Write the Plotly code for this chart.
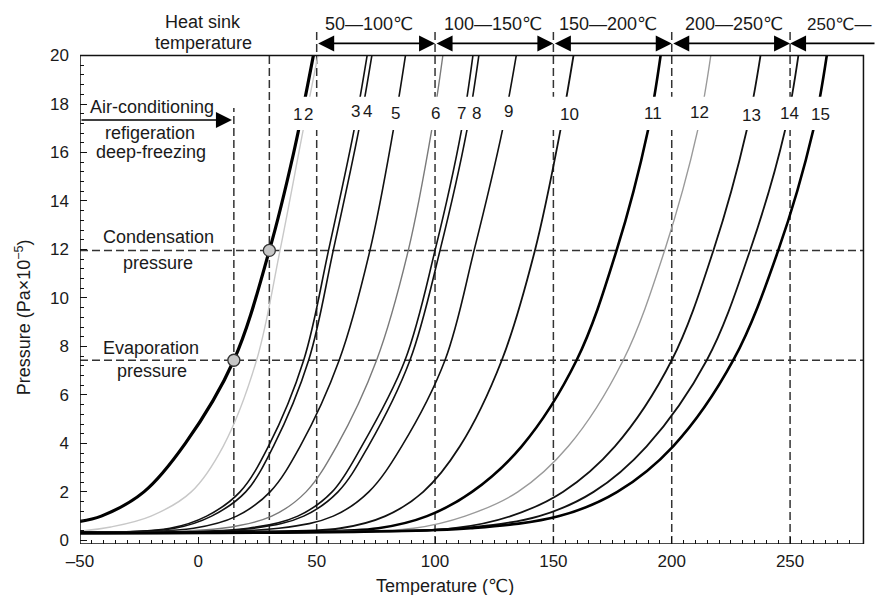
import plotly.graph_objects as go

# ---------------- data ----------------
# temperature (deg C) / pressure (Pa x 10^-5) points on each saturation curve
T1 = [-50, -41, -23, -5.5, 15, 30, 40.3, 48.6]
P1 = [0.78, 1, 2, 4, 7.43, 11.96, 16, 20]
T2 = [-50, -37, -20, -3, 10.5, 24.6, 34.5, 44.3, 50.5]
P2 = [0.38, 0.55, 1, 2, 3.88, 7.43, 11.96, 16.93, 20]
P_MID = [0.33, 0.5, 1, 2, 3.88, 7.43, 11.96, 16.93, 20]
T3 = [-50, -12, 3.5, 17.6, 29.6, 44.5, 55, 65.8, 71.3]
T4 = [-50, -10, 5.6, 20, 31.7, 46.6, 57, 67.8, 73.3]
T5 = [-50, -2, 16.2, 30.3, 43, 59.5, 72.5, 82.4, 87.5]
T6 = [-50, 10, 31, 45.5, 58.4, 75.3, 88.7, 98.6, 103.3]
T7 = [-50, 21, 42, 56.5, 69, 87.3, 100, 111.2, 116]
T8 = [-50, 23.5, 44.5, 59, 71.8, 89.4, 102.1, 113.5, 118.5]
T9 = [-50, 34, 57, 72, 85.9, 104.2, 116.5, 128.5, 134.3]
P_HIGH = [0.3, 0.36, 0.5, 1, 2, 3.88, 7.43, 11.96, 16.93, 20]
T10 = [-50, 20, 60, 79, 95, 110.5, 128.2, 142.2, 153, 158.5]
T11 = [-50, 40, 76, 96.6, 115.6, 136.6, 159.8, 176.7, 190, 195.3]
T12 = [-50, 50, 91, 112.7, 135, 156.3, 179.5, 197, 211, 216.5]
T13 = [-50, 60, 108, 132, 154, 176, 200, 217.6, 231.7, 237.5]
T14 = [-50, 65, 110, 144, 167, 189.4, 214.8, 233.1, 247.9, 253.5]
T15 = [-50, 70, 115, 152.5, 177, 200.6, 226, 245, 259.8, 265.5]

curve_names = [str(i) for i in range(1, 16)]
curve_T = [T1, T2, T3, T4, T5, T6, T7, T8, T9, T10, T11, T12, T13, T14, T15]
curve_P = [P1, P2] + [P_MID] * 7 + [P_HIGH] * 6

# operating points
EVAP_T, EVAP_P = 15, 7.43
COND_T, COND_P = 30, 11.96

# heat-sink temperature bands
band_edges = [50, 100, 150, 200, 250]
band_labels = ["50—100℃", "100—150℃", "150—200℃", "200—250℃", "250℃—"]

x_ticks = [-50, 0, 50, 100, 150, 200, 250]
x_ticktext = ["–50", "0", "50", "100", "150", "200", "250"]
y_ticks = list(range(0, 21, 2))

# ---------------- styling ----------------
curve_color = ["#000000", "#c8c8c8", "#111111", "#111111", "#111111", "#7a7a7a",
               "#111111", "#111111", "#111111", "#111111", "#000000", "#9a9a9a",
               "#111111", "#111111", "#000000"]
curve_width = [3.2, 1.4, 1.6, 1.6, 1.6, 1.4, 1.6, 1.6, 1.6, 1.8, 2.6, 1.4, 1.8, 1.8, 2.6]
# label positions (T, P) in the label row
label_pos = [(41.9, 17.55), (46.4, 17.55), (66.3, 17.69), (71.4, 17.69), (83.1, 17.59),
             (100.0, 17.62), (111.3, 17.59), (117.6, 17.59), (131.0, 17.69), (156.7, 17.55),
             (192.2, 17.62), (211.6, 17.63), (233.8, 17.51), (249.7, 17.62), (262.9, 17.58)]

FONT = "Liberation Sans, Arial, DejaVu Sans, sans-serif"
X_MIN, X_BOX, X_MAX = -50, 281, 286.3
Y_MIN, Y_MAX = -0.15, 22.29
DASH = "8px,4px"

fig = go.Figure()
for name, t, p, c, w in zip(curve_names, curve_T, curve_P, curve_color, curve_width):
    fig.add_trace(go.Scatter(x=t, y=p, mode="lines", name=name,
                             line=dict(color=c, width=w, shape="spline", smoothing=1.0),
                             hoverinfo="skip", showlegend=False))

fig.add_trace(go.Scatter(x=[EVAP_T, COND_T], y=[EVAP_P, COND_P], mode="markers",
                         marker=dict(size=12, color="#c6c6c6", line=dict(color="#333", width=1.3)),
                         showlegend=False, hoverinfo="skip"))

shapes = []
dl = dict(color="#333333", width=1.5, dash=DASH)
for yv in (EVAP_P, COND_P):
    shapes.append(dict(type="line", xref="x", yref="y", x0=X_MIN, x1=X_BOX, y0=yv, y1=yv,
                       line=dl, layer="below"))
shapes.append(dict(type="line", xref="x", yref="y", x0=EVAP_T, x1=EVAP_T, y0=Y_MIN, y1=17.84,
                   line=dl, layer="below"))
shapes.append(dict(type="line", xref="x", yref="y", x0=COND_T, x1=COND_T, y0=Y_MIN, y1=20,
                   line=dl, layer="below"))
for xv in band_edges:
    shapes.append(dict(type="line", xref="x", yref="y", x0=xv, x1=xv, y0=Y_MIN, y1=20.97,
                       line=dl, layer="below"))
# white band behind the curve numbers
shapes.append(dict(type="rect", xref="x", yref="y", x0=36.5, x1=280.3, y0=16.93, y1=18.3,
                   fillcolor="white", line=dict(width=0), layer="above"))
# plot frame
shapes.append(dict(type="rect", xref="x", yref="y", x0=X_MIN, x1=X_BOX, y0=Y_MIN, y1=20,
                   line=dict(color="#111", width=1.5), layer="above"))

ann = []
def txt(x, y, s, size=18, xanchor="center", xref="x", yref="y", angle=0):
    ann.append(dict(x=x, y=y, xref=xref, yref=yref, text=s, showarrow=False,
                    xanchor=xanchor, yanchor="middle", textangle=angle,
                    font=dict(family=FONT, size=size, color="#1a1a1a")))

for name, (lx, ly) in zip(curve_names, label_pos):
    txt(lx, ly, name, size=17)

txt(2.0, 21.4, "Heat sink")
txt(2.0, 20.52, "temperature")
band_centers = [72, 124.6, 172.9, 226.3]
for cx, lab in zip(band_centers, band_labels[:4]):
    txt(cx, 21.3, lab)
txt(256.5, 21.3, band_labels[4], size=17, xanchor="left")

txt(-19.7, 17.89, "Air-conditioning")
txt(-20.4, 16.82, "refigeration")
txt(-19.8, 16.0, "deep-freezing")
txt(-16.9, 12.51, "Condensation")
txt(-16.9, 11.44, "pressure")
txt(-20.1, 7.93, "Evaporation")
txt(-19.4, 6.97, "pressure")

def arrow(x_head, x_tail, y, both=True):
    ann.append(dict(x=x_head, y=y, ax=x_tail, ay=y, xref="x", yref="y", axref="x", ayref="y",
                    text="", showarrow=True, arrowhead=2, startarrowhead=2,
                    arrowside="end+start" if both else "end",
                    arrowsize=2.0, arrowwidth=1.6, arrowcolor="#000",
                    standoff=0, startstandoff=0))

for a, b in zip(band_edges[:-1], band_edges[1:]):
    arrow(b, a, 20.5)
arrow(band_edges[-1], X_MAX, 20.5, both=False)
arrow(14.2, X_MIN, 17.34, both=False)

# axis titles
txt(-0.0716, 9.2, "Pressure (Pa×10<sup>−5</sup>)", xref="paper", angle=-90)
txt(104.2, -0.0764, "Temperature (℃)", yref="paper", size=18)

minor_x = [v for v in range(-50, 280, 5) if v % 50 != 0]
minor_y = [round(i * 0.4, 1) for i in range(0, 51) if round(i * 0.4, 1) % 2 != 0]

fig.update_layout(
    width=876, height=595, margin=dict(l=80, r=0, t=0, b=50.6),
    paper_bgcolor="white", plot_bgcolor="white",
    shapes=shapes, annotations=ann, showlegend=False,
    font=dict(family=FONT, size=17, color="#1a1a1a"),
    xaxis=dict(range=[X_MIN, X_MAX], showgrid=False, zeroline=False, showline=False,
               tickmode="array", tickvals=x_ticks, ticktext=x_ticktext,
               ticks="inside", ticklen=7, tickwidth=1.3, tickcolor="#111",
               ticklabelstandoff=5,
               minor=dict(tickmode="array", tickvals=minor_x, ticks="inside", ticklen=4,
                          tickwidth=1.2, tickcolor="#111", showgrid=False),
               tickfont=dict(family=FONT, size=17, color="#1a1a1a")),
    yaxis=dict(range=[Y_MIN, Y_MAX], showgrid=False, zeroline=False, showline=False,
               tickmode="array", tickvals=y_ticks,
               ticks="inside", ticklen=7, tickwidth=1.3, tickcolor="#111",
               ticklabelstandoff=10,
               minor=dict(tickmode="array", tickvals=minor_y, ticks="inside", ticklen=4,
                          tickwidth=1.2, tickcolor="#111", showgrid=False),
               tickfont=dict(family=FONT, size=17, color="#1a1a1a")),
)

fig.write_html("out.html")
